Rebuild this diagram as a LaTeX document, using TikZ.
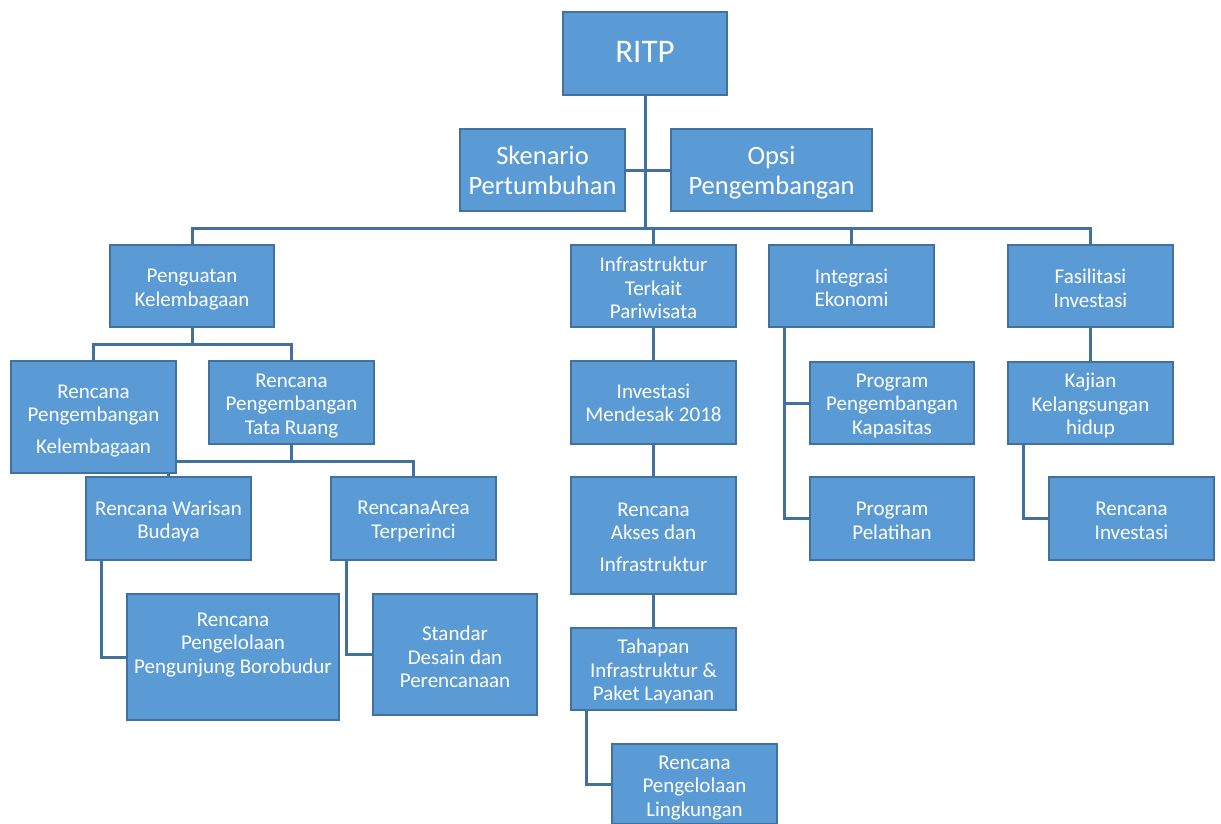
\documentclass[tikz,border=0pt]{standalone}
\usepackage{fontspec}
\setmainfont{Carlito}
\definecolor{boxfill}{HTML}{5B9BD5}
\definecolor{boxline}{HTML}{41719C}
\tikzset{
  box/.style={draw=boxline, fill=boxfill, line width=2.4pt, inner sep=0pt, rectangle},
  base text/.style={text=white, align=center, inner sep=0pt},
  txt/.style={base text, text depth=4pt, yshift=-3pt, font=\fontsize{21}{23.5}\selectfont},
  mid/.style={base text, text depth=5pt, yshift=-2pt, font=\fontsize{26.5}{30}\selectfont},
  big/.style={base text, text depth=0pt, font=\fontsize{33}{40}\selectfont},
  conn/.style={draw=boxline, line width=3pt},
}
% name, x1, y1, x2, y2, text centre y, text style, text
\newcommand\mybox[8]{%
  \node[box, minimum width={(#4-#2)*1pt}, minimum height={(#5-#3)*1pt}] (#1) at ({(#2+#4)/2},{(#3+#5)/2}) {};
  \node[#7] (#1-t) at ({(#2+#4)/2},#6) {#8};
}
\begin{document}
\begin{tikzpicture}[x=1pt,y=-1pt]
\useasboundingbox (0,0) rectangle (1221,823);
\clip (0,0) rectangle (1221,823);
\fill[white] (0,0) rectangle (1221,823);
\coordinate (bus) at (0,228);
\coordinate (busA) at (0,344);
\coordinate (busB) at (0,461);
\mybox{ritp}{563}{12}{727}{95}{52}{big}{RITP}
\mybox{sken}{460}{129}{625}{211}{171}{mid}{Skenario\\Pertumbuhan}
\mybox{opsi}{671}{129}{872}{211}{171}{mid}{Opsi\\Pengembangan}
\mybox{peng}{110}{245}{274}{327}{287}{txt}{Penguatan\\Kelembagaan}
\mybox{infra}{571}{245}{736}{327}{287}{txt}{Infrastruktur\\Terkait\\Pariwisata}
\mybox{integ}{769}{245}{934}{327}{287}{txt}{Integrasi\\Ekonomi}
\mybox{fas}{1008}{245}{1173}{327}{287}{txt}{Fasilitasi\\Investasi}
\mybox{rptr}{209}{361}{374}{444}{403}{txt}{Rencana\\Pengembangan\\Tata Ruang}
\mybox{rwb}{86}{477}{251}{560}{519}{txt}{Rencana Warisan\\Budaya}
\mybox{rat}{331}{477}{496}{560}{519}{txt}{RencanaArea\\Terperinci}
\mybox{rppb}{127}{594}{339}{720}{642}{txt}{Rencana\\Pengelolaan\\Pengunjung Borobudur}
\mybox{std}{373}{594}{537}{715}{656}{txt}{Standar\\Desain dan\\Perencanaan}
\mybox{inv}{571}{361}{736}{444}{402}{txt}{Investasi\\Mendesak 2018}
\mybox{rai}{571}{477}{736}{594}{536}{txt}{Rencana\\Akses dan\\[8pt]Infrastruktur}
\mybox{tah}{571}{628}{736}{710}{669}{txt}{Tahapan\\Infrastruktur \&\\Paket Layanan}
\mybox{rpl}{612}{744}{777}{824}{785}{txt}{Rencana\\Pengelolaan\\Lingkungan}
\mybox{ppk}{810}{362}{974}{444}{403}{txt}{Program\\Pengembangan\\Kapasitas}
\mybox{ppel}{810}{477}{974}{560}{520}{txt}{Program\\Pelatihan}
\mybox{kaj}{1008}{362}{1173}{444}{403}{txt}{Kajian\\Kelangsungan\\hidup}
\mybox{ri}{1049}{477}{1214}{560}{520}{txt}{Rencana\\Investasi}
% ---- connectors ----
\draw[conn] (ritp.south) -- (ritp.south |- bus);
\draw[conn] (peng.north) -- (peng.north |- bus) -- (fas.north |- bus) -- (fas.north);
\draw[conn] (infra.north) -- (infra.north |- bus);
\draw[conn] (integ.north) -- (integ.north |- bus);
\draw[conn] (sken.east) -- (opsi.west);
\draw[conn] (peng.south) -- (peng.south |- busA);
\draw[conn] (rptr.south) -- (rptr.south |- busB);
\draw[conn] (rwb.north) -- (rwb.north |- busB) -- (rat.north |- busB) -- (rat.north);
\draw[conn] ([xshift=17pt]rwb.south west) |- (rppb.west);
\draw[conn] ([xshift=17pt]rat.south west) |- (std.west);
\draw[conn] (infra.south) -- (inv.north);
\draw[conn] (inv.south) -- (rai.north);
\draw[conn] (rai.south) -- (tah.north);
\draw[conn] ([xshift=17pt]tah.south west) |- (rpl.west);
\draw[conn] ([xshift=17pt]integ.south west) |- (ppel.west);
\draw[conn] ([xshift=17pt]integ.south west |- ppk.west) -- (ppk.west);
\draw[conn] (fas.south) -- (kaj.north);
\draw[conn] ([xshift=17pt]kaj.south west) |- (ri.west);
% box drawn over the connector that passes behind it
\mybox{rpk}{11}{361}{176}{473}{418}{txt}{Rencana\\Pengembangan\\[8pt]Kelembagaan}
\draw[conn] (rpk.north) -- (rpk.north |- busA) -- (rptr.north |- busA) -- (rptr.north);
\end{tikzpicture}
\end{document}
